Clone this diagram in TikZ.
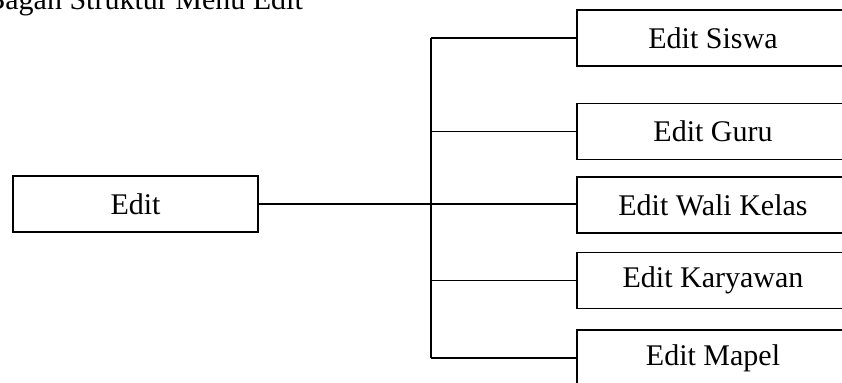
\documentclass[tikz,border=0pt]{standalone}
\usepackage{fontspec}
\setmainfont{Liberation Serif}
\begin{document}
\begin{tikzpicture}[x=0.5pt,y=-0.5pt,
  menubox/.style={draw=black,line width=0.9pt,inner sep=0pt,minimum height=28pt,font=\fontsize{15}{18}\selectfont},
  leftbox/.style={menubox,minimum width=122.5pt},
  rightbox/.style={menubox,minimum width=136pt},
  link/.style={draw=black,line width=0.9pt}]
\useasboundingbox (0,0) rectangle (842,383);
\begin{scope}
\clip (0,0) rectangle (842,383);
\node[anchor=base west,inner sep=0pt,font=\fontsize{15}{18}\selectfont] (title) at (-15,10) {Bagan Struktur Menu Edit};
\node[leftbox] (edit) at (135.5,204) {Edit};
\node[rightbox] (siswa) at (713,38) {Edit Siswa};
\node[rightbox] (guru) at (713,131.5) {Edit Guru};
\node[rightbox] (wali) at (713,205) {Edit Wali Kelas};
\node[rightbox] (kary) at (713,280.5) {Edit Karyawan};
\node[rightbox] (mapel) at (713,358) {Edit Mapel};
\coordinate (ttop) at (431,38);
\coordinate (tbot) at (431,358);
\draw[link] (ttop) -- (tbot);
\draw[link] (edit.east) -- (edit.east -| ttop);
\draw[link] (edit.east -| ttop) -- (wali.west |- edit.east);
\draw[link] (ttop) -- (siswa.west);
\draw[link] (guru.west -| ttop) -- (guru.west);
\draw[link] (kary.west -| ttop) -- (kary.west);
\draw[link] (tbot) -- (mapel.west);
\end{scope}
\end{tikzpicture}
\end{document}
